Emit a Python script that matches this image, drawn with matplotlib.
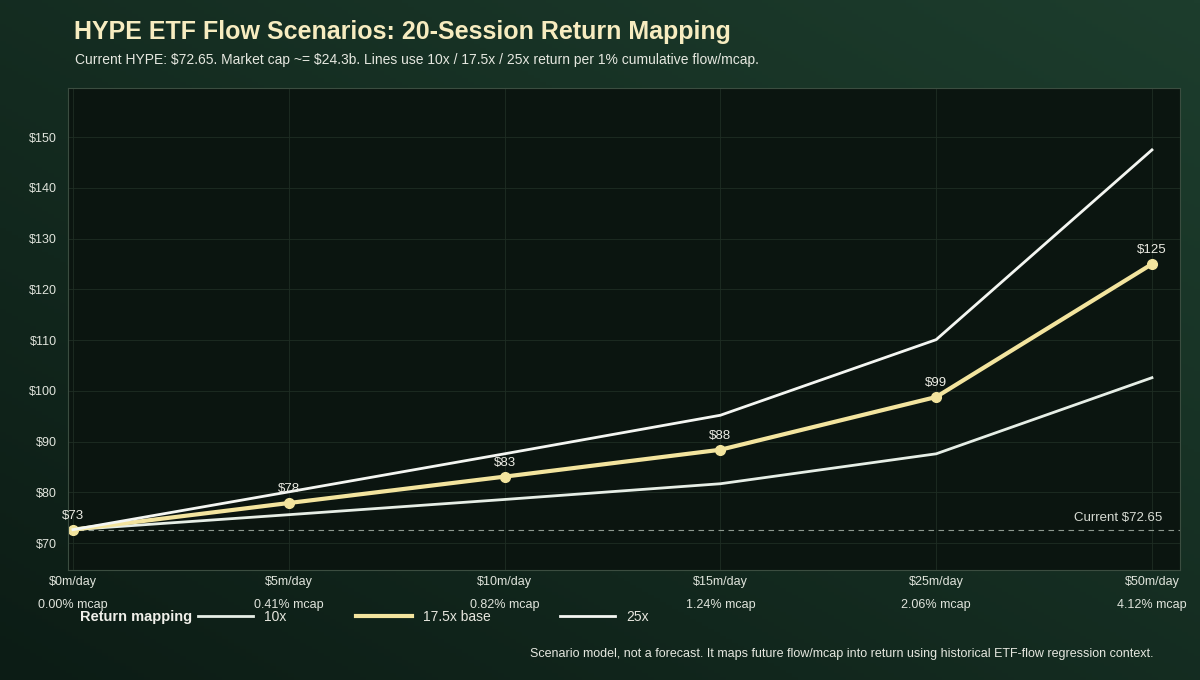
import numpy as np
import matplotlib
matplotlib.use('Agg')
import matplotlib.pyplot as plt
from matplotlib.lines import Line2D

flow_labels = ['$0m/day', '$5m/day', '$10m/day', '$15m/day', '$25m/day', '$50m/day']
mcap_labels = ['0.00% mcap', '0.41% mcap', '0.82% mcap', '1.24% mcap', '2.06% mcap', '4.12% mcap']
ret_10x = [72.65, 75.6, 78.6, 81.7, 87.6, 102.6]
ret_base = [72.65, 77.9, 83.1, 88.4, 98.8, 125.0]
ret_25x = [72.65, 80.1, 87.6, 95.2, 110.1, 147.5]
current = 72.65

plt.rcParams['font.family'] = ['Liberation Sans', 'DejaVu Sans']
plt.rcParams['text.parse_math'] = False

fig = plt.figure(figsize=(12, 6.8), dpi=100)
# background gradient
bg = fig.add_axes([0, 0, 1, 1], zorder=-10)
yy, xx = np.mgrid[0:1:200j, 0:1:200j]
g = 0.5 * xx + 0.5 * yy
c0 = np.array([0x0c, 0x1c, 0x15]) / 255
c1 = np.array([0x1d, 0x3d, 0x2d]) / 255
img = c0 + (c1 - c0) * g[..., None]
bg.imshow(img, extent=[0, 1, 0, 1], aspect='auto', origin='lower')
bg.axis('off')

ax = fig.add_axes([68 / 1200, 110 / 680, 1112 / 1200, 482 / 680])
ax.set_facecolor('#0b1510')
x = np.arange(len(flow_labels))

ax.axhline(current, color='#8e9a90', lw=0.8, ls=(0, (5, 4)))
ax.text(5.05, current + 1.2, 'Current $72.65', color='#d8dcd4', fontsize=9.5, ha='right', va='bottom')

ax.plot(x, ret_10x, color='#e6eee6', lw=2)
ax.plot(x, ret_base, color='#f3e49e', lw=3, marker='o', ms=7)
ax.plot(x, ret_25x, color='#f4f6f2', lw=2)
for xi, v in zip(x, ret_base):
    ax.text(xi, v + 1.6, f'${v:.0f}', color='#ecece4', fontsize=9.5, ha='center', va='bottom')

ax.set_xlim(-0.023, 5.13)
ax.set_ylim(64.7, 159.7)
ax.set_yticks(range(70, 151, 10))
ax.set_yticklabels([f'${v}' for v in range(70, 151, 10)])
ax.set_xticks(x)
ax.set_xticklabels([f'{a}\n{b}' for a, b in zip(flow_labels, mcap_labels)], linespacing=2.3)
ax.tick_params(colors='#e0e4dc', labelsize=9, length=0, pad=4)
ax.tick_params(axis='y', pad=8)
ax.grid(color='#1f2d24', lw=0.6)
for s in ax.spines.values():
    s.set_color('#3b4d40')
    s.set_linewidth(0.8)

handles = [Line2D([], [], color='#e6eee6', lw=2),
           Line2D([], [], color='#f3e49e', lw=3),
           Line2D([], [], color='#f4f6f2', lw=2)]
fig.legend(handles, ['10x', '17.5x base', '25x'], loc='center left',
           bbox_to_anchor=(185 / 1200, 63 / 680), ncol=3, frameon=False,
           fontsize=10, handlelength=4, columnspacing=5, labelcolor='#e6e6de')
fig.text(80 / 1200, 63 / 680, 'Return mapping', color='#f0f0ea', fontsize=10.5, weight='bold', va='center')

fig.text(74 / 1200, 1 - 32 / 680, 'HYPE ETF Flow Scenarios: 20-Session Return Mapping',
         color='#f7ecc0', fontsize=18, weight='bold', va='center')
fig.text(75 / 1200, 1 - 60 / 680,
         'Current HYPE: $72.65. Market cap ~= $24.3b. Lines use 10x / 17.5x / 25x return per 1% cumulative flow/mcap.',
         color='#e6e8e0', fontsize=10, va='center')
fig.text(1153 / 1200, 26 / 680,
         'Scenario model, not a forecast. It maps future flow/mcap into return using historical ETF-flow regression context.',
         color='#e6e8e0', fontsize=9, ha='right', va='center')

fig.savefig('out.png', dpi=100)
